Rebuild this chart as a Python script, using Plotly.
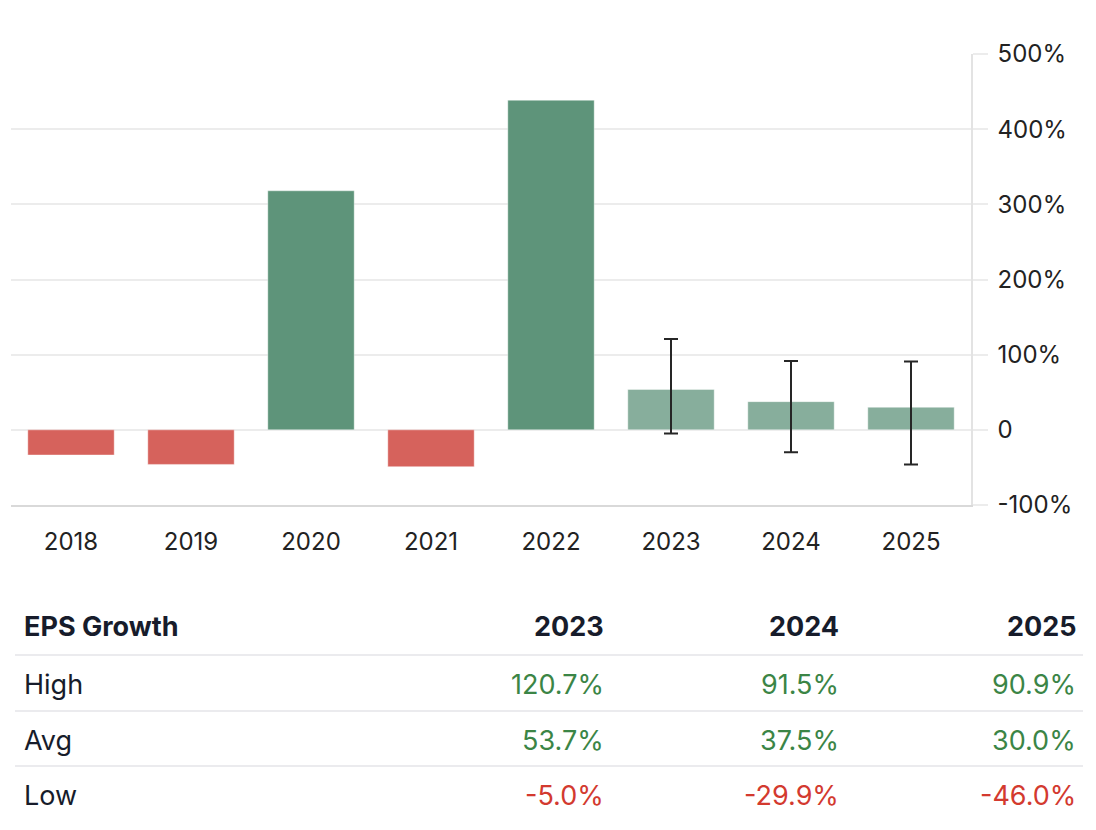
import plotly.graph_objects as go

years = ["2018", "2019", "2020", "2021", "2022", "2023", "2024", "2025"]
hist_years = ["2018", "2019", "2020", "2021", "2022"]
hist_growth = [-33.5, -46.0, 318.0, -49.0, 438.5]
fc_years = ["2023", "2024", "2025"]
fc_avg = [53.7, 37.5, 30.0]
fc_high = [120.7, 91.5, 90.9]
fc_low = [-5.0, -29.9, -46.0]

ytick_vals = [-100, 0, 100, 200, 300, 400, 500]
ytick_text = ["-100%", "0", "100%", "200%", "300%", "400%", "500%"]

table_title = "EPS Growth"
table_rows = ["High", "Avg", "Low"]

GREEN = "#5e947a"
RED = "#d6625c"
LIGHT_GREEN = "#87ae9c"
TXT_GREEN = "#3b8546"
TXT_RED = "#d33a2f"
DARK = "#171c2b"

# page body has an 8px margin; lay out in screen pixels and compensate
OFF = 8
SW, SH = 1096, 830
W, H = SW - OFF, SH - OFF
PLOT_L, PLOT_R, PLOT_T, PLOT_B = 11, 971, 54, 505  # screen px
L = PLOT_L - OFF
T = PLOT_T - OFF
R = W - (PLOT_R - OFF)
B = H - (PLOT_B - OFF)
PW, PH = PLOT_R - PLOT_L, PLOT_B - PLOT_T


def px(x):
    return (x - PLOT_L) / PW


def py(y):
    return (PLOT_B - y) / PH


fig = go.Figure()
fig.add_trace(go.Bar(
    x=hist_years, y=hist_growth,
    marker=dict(color=[GREEN if v >= 0 else RED for v in hist_growth],
                line=dict(width=1, color="rgba(255,255,255,0.4)")),
    hoverinfo="skip",
))
fig.add_trace(go.Bar(
    x=fc_years, y=fc_avg,
    marker=dict(color=LIGHT_GREEN, line=dict(width=1, color="rgba(255,255,255,0.4)")),
    error_y=dict(type="data", symmetric=False,
                 array=[h - a for h, a in zip(fc_high, fc_avg)],
                 arrayminus=[a - l for a, l in zip(fc_avg, fc_low)],
                 color="#262626", thickness=2, width=7),
    hoverinfo="skip",
))

fig.update_layout(
    width=W, height=H,
    margin=dict(l=L, r=R, t=T, b=B, pad=0),
    paper_bgcolor="white", plot_bgcolor="white",
    showlegend=False,
    barmode="overlay",
    bargap=0.28,
    font=dict(family="Inter, Noto Sans, sans-serif", color="#222222"),
    xaxis=dict(
        categoryorder="array", categoryarray=years,
        showgrid=False, showline=True, linecolor="#d9d9d9", linewidth=1.5,
        ticks="", tickfont=dict(size=24, color="#222222"),
        ticklabelstandoff=14, fixedrange=True,
    ),
    yaxis=dict(
        side="right", range=[-100, 500],
        tickvals=ytick_vals, ticktext=ytick_text,
        showgrid=True, gridcolor="#ececec", gridwidth=1.5,
        zeroline=False,
        showline=True, linecolor="#e3e3e3", linewidth=1.5,
        ticks="outside", ticklen=15, tickcolor="#ececec", tickwidth=1.5,
        tickfont=dict(size=24, color="#222222"),
        ticklabelstandoff=5, fixedrange=True,
    ),
)

annotations = []
shapes = []
header_y = 626
row_ys = [684, 740, 795]
col_right = [606, 841, 1078]
text_left = 22
line_ys = [655, 711, 766]
TFS = 27

annotations.append(dict(x=px(text_left), y=py(header_y), xref="paper", yref="paper",
                        text="<b>%s</b>" % table_title, showarrow=False,
                        xanchor="left", yanchor="middle",
                        font=dict(size=TFS, color=DARK)))
for yr, cx in zip(fc_years, col_right):
    annotations.append(dict(x=px(cx), y=py(header_y), xref="paper", yref="paper",
                            text="<b>%s</b>" % yr, showarrow=False,
                            xanchor="right", yanchor="middle",
                            font=dict(size=TFS, color=DARK)))

row_vals = [fc_high, fc_avg, fc_low]
for name, vals, ry in zip(table_rows, row_vals, row_ys):
    annotations.append(dict(x=px(text_left), y=py(ry), xref="paper", yref="paper",
                            text=name, showarrow=False,
                            xanchor="left", yanchor="middle",
                            font=dict(size=TFS, color=DARK)))
    for v, cx in zip(vals, col_right):
        annotations.append(dict(x=px(cx), y=py(ry), xref="paper", yref="paper",
                                text="%.1f%%" % v, showarrow=False,
                                xanchor="right", yanchor="middle",
                                font=dict(size=TFS, color=TXT_GREEN if v >= 0 else TXT_RED)))

for ly in line_ys:
    shapes.append(dict(type="line", xref="paper", yref="paper",
                       x0=px(15), x1=px(1083), y0=py(ly), y1=py(ly),
                       line=dict(color="#e4e4e9", width=1.5)))

fig.update_layout(annotations=annotations, shapes=shapes)

fig.write_html("out.html")
